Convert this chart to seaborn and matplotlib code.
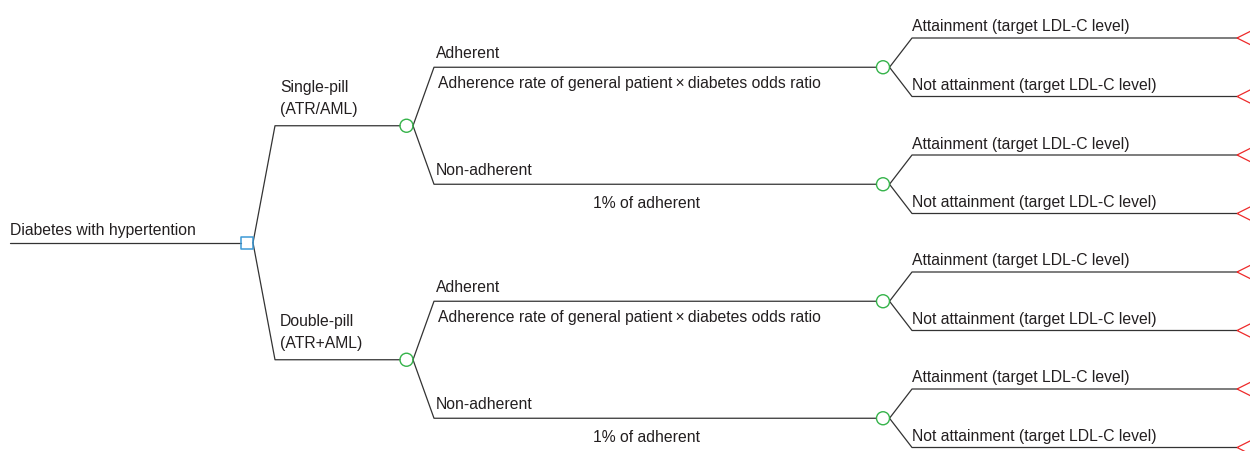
# Decision tree: diabetes with hypertension, single-pill vs double-pill
import pandas as pd
import numpy as np
import matplotlib.pyplot as plt
import seaborn as sns

# Labels
root_label = "Diabetes with hypertention"
strategies = ["Single-pill\n(ATR/AML)", "Double-pill\n(ATR+AML)"]
adherence = ["Adherent", "Non-adherent"]
adherence_rate = ["Adherence rate of general patient\u2009\u00d7\u2009diabetes odds ratio", "1% of adherent"]
outcomes = ["Attainment (target LDL-C level)", "Not attainment (target LDL-C level)"]

sns.set_style("white")
plt.rcParams['font.family'] = ['Liberation Sans', 'DejaVu Sans']

line_col = '#333333'
text_col = '#231f20'
fs = 11.3

# Tree layout: leaves spaced evenly, parents at the middle of their children
n_leaves = len(strategies) * len(adherence) * len(outcomes)
leaf_y = np.arange(n_leaves, dtype=float)
l2_y = leaf_y.reshape(-1, len(outcomes)).mean(axis=1)
l1_y = l2_y.reshape(-1, len(adherence)).mean(axis=1)
root_y = l1_y.mean()

# x positions of each depth (pixels)
x_root0, x_sq = 10, 247
x_k1, x_n1 = 275, 406.5
x_k2, x_n2 = 434, 883
x_k3, x_end = 912, 1237
r_node = 6.5

rows = []
seg = 0
def add(xs, ys):
    global seg
    for x, y in zip(xs, ys):
        rows.append({'x': x, 'y': y, 'seg': seg})
    seg += 1

add([x_root0, x_sq - 6], [root_y, root_y])
for y1 in l1_y:
    add([x_sq + 6, x_k1, x_n1 - r_node], [root_y, y1, y1])
for i, y2 in enumerate(l2_y):
    y1 = l1_y[i // len(adherence)]
    add([x_n1 + r_node, x_k2, x_n2 - r_node], [y1, y2, y2])
for j, yl in enumerate(leaf_y):
    y2 = l2_y[j // len(outcomes)]
    add([x_n2 + r_node, x_k3, x_end], [y2, yl, yl])
edges = pd.DataFrame(rows)

fig = plt.figure(figsize=(12.5, 4.52), dpi=100)
ax = fig.add_axes([0, 0, 1, 1])

sns.lineplot(data=edges, x='x', y='y', units='seg', estimator=None, sort=False,
             color=line_col, lw=0.9, ax=ax)

# decision node
sns.scatterplot(x=[x_sq], y=[root_y], marker='s', s=75, facecolor='none',
                edgecolor='#3d9ad6', linewidth=1.1, ax=ax, zorder=3)
# chance nodes
sns.scatterplot(x=[x_n1] * len(l1_y) + [x_n2] * len(l2_y), y=list(l1_y) + list(l2_y),
                marker='o', s=88, facecolor='none', edgecolor='#35b34a',
                linewidth=1.0, ax=ax, zorder=3)
# terminal nodes
sns.scatterplot(x=[x_end + 11] * n_leaves, y=leaf_y, marker='<', s=251,
                facecolor='none', edgecolor='#ee2a2a', linewidth=0.9, ax=ax, zorder=3)

def label(x, y, txt, dy, ha='left'):
    ax.annotate(txt, xy=(x, y), xytext=(0, dy), textcoords='offset pixels',
                ha=ha, va='baseline', fontsize=fs, color=text_col)

label(x_root0, root_y, root_label, 9)
for k, y1 in enumerate(l1_y):
    first, second = strategies[k].split('\n')
    label(280, y1, first, 34.5)
    label(280, y1, second, 12.3)
for i, y2 in enumerate(l2_y):
    a = i % len(adherence)
    label(436, y2, adherence[a], 10)
    if a == 0:
        label(438, y2, adherence_rate[a], -20)
    else:
        label(593, y2, adherence_rate[a], -23)
for j, yl in enumerate(leaf_y):
    label(912, yl, outcomes[j % len(outcomes)], 7.5)

# map leaf index to pixel rows: leaf 0 at y=39, spacing 58.5 px
ax.set_xlim(0, 1250)
ax.set_ylim((452 - 39) / 58.5, -39 / 58.5)
ax.axis('off')
if ax.get_legend() is not None:
    ax.get_legend().remove()

fig.savefig('out.png', dpi=100)
